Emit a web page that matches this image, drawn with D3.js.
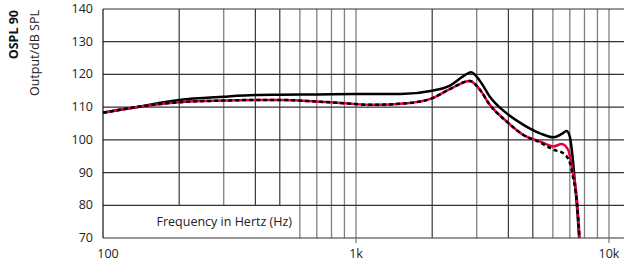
<!DOCTYPE html>
<html>
<head>
<meta charset="utf-8">
<script src="https://cdn.jsdelivr.net/npm/d3@7"></script>
<style>
  body { margin: 0; background: #fff; }
  svg { display: block; }
</style>
</head>
<body>
<div id="viz-container"></div>
<script>
// values (Hz, dB SPL)
let blackFreq = [100, 135, 200, 300, 400, 500, 700, 1000, 1500, 2000, 2350, 2650, 2850, 3090, 3380, 3940, 4590, 5340, 6030, 6500, 6800, 7000, 7150, 7350, 7500, 7620];
let blackDb   = [108.3, 110.0, 112.2, 113.2, 113.7, 113.8, 113.9, 114.0, 114.0, 115.0, 116.6, 119.4, 120.7, 118.0, 113.2, 108.1, 104.6, 102.0, 100.8, 101.8, 102.7, 101.0, 96, 86, 78, 70];

let redFreq = [100, 135, 200, 300, 400, 500, 700, 900, 1170, 1590, 2000, 2350, 2820, 3090, 3380, 3940, 4590, 5340, 6030, 6500, 6900, 7130, 7470, 7650];
let redDb   = [108.3, 110.0, 111.5, 112.0, 112.2, 112.2, 111.7, 111.2, 110.7, 111.2, 112.7, 115.5, 118.0, 115.3, 110.7, 105.6, 101.5, 99.5, 98.0, 98.7, 96.9, 91.8, 81.7, 70];

let dashFreq = [100, 135, 200, 300, 400, 500, 700, 900, 1170, 1590, 2000, 2350, 2820, 3090, 3380, 3940, 4590, 5340, 6030, 6600, 7010, 7200, 7470, 7650];
let dashDb   = [108.3, 110.0, 111.5, 112.0, 112.2, 112.2, 111.7, 111.2, 110.7, 111.2, 112.7, 115.5, 118.0, 115.3, 110.7, 105.6, 101.5, 99.2, 97.0, 95.9, 92.9, 88.8, 80.8, 70];

let yTicks = [70, 80, 90, 100, 110, 120, 130, 140];
let xLabels = [[100, "100"], [1000, "1k"], [10000, "10k"]];
let darkLines = [200, 400, 500, 2000, 4000, 5000];
let greyLines = [300, 600, 700, 800, 900, 1000, 3000, 6000, 7000, 8000, 9000, 10000];

let svgWidth = 624;
let svgHeight = 265;
let plotLeft = 103, plotTop = 9, plotBottom = 238, plotRight = 624;
let font = "'Liberation Sans Narrow', 'Arial Narrow', 'Open Sans', sans-serif";

let viz = d3.select("#viz-container")
  .append("svg")
    .attr("width", svgWidth)
    .attr("height", svgHeight);

// 253 px per decade, the plot runs off the right edge
let x = d3.scaleLog()
  .domain([100, 100 * Math.pow(10, (plotRight - plotLeft) / 253)])
  .range([plotLeft, plotRight]);
let y = d3.scaleLinear().domain([70, 140]).range([plotBottom, plotTop]);

// vertical grid
viz.selectAll(".greyLine").data(greyLines).enter()
  .append("line")
    .attr("class", "greyLine")
    .attr("x1", d => x(d)).attr("x2", d => x(d))
    .attr("y1", plotTop).attr("y2", plotBottom)
    .attr("stroke", "#808080")
    .attr("stroke-width", 1.3);

viz.selectAll(".darkLine").data(darkLines).enter()
  .append("line")
    .attr("class", "darkLine")
    .attr("x1", d => x(d)).attr("x2", d => x(d))
    .attr("y1", plotTop).attr("y2", plotBottom)
    .attr("stroke", "#111")
    .attr("stroke-width", 1);

// white box behind the x title
viz.append("rect")
  .attr("x", plotLeft)
  .attr("y", y(80))
  .attr("width", x(590) - plotLeft)
  .attr("height", plotBottom - y(80))
  .attr("fill", "white");

// horizontal grid
viz.selectAll(".hLine").data(yTicks).enter()
  .append("line")
    .attr("class", "hLine")
    .attr("x1", plotLeft).attr("x2", plotRight)
    .attr("y1", d => y(d)).attr("y2", d => y(d))
    .attr("stroke", "#333")
    .attr("stroke-width", 1.2);

viz.append("line")
  .attr("x1", plotLeft).attr("x2", plotLeft)
  .attr("y1", plotTop).attr("y2", plotBottom)
  .attr("stroke", "#111")
  .attr("stroke-width", 1.2);

// tick marks below the axis at 1k and 10k
viz.selectAll(".tickMark").data([1000, 10000]).enter()
  .append("line")
    .attr("x1", d => x(d)).attr("x2", d => x(d))
    .attr("y1", plotBottom).attr("y2", plotBottom + 5)
    .attr("stroke", "#808080")
    .attr("stroke-width", 1.3);

// y tick labels
viz.selectAll(".yLabel").data(yTicks).enter()
  .append("text")
    .text(d => d)
    .attr("x", 93)
    .attr("y", d => y(d) + 4)
    .attr("text-anchor", "end")
    .attr("font-family", font)
    .attr("font-size", 12.5)
    .attr("fill", "#222");

// x tick labels
viz.selectAll(".xLabel").data(xLabels).enter()
  .append("text")
    .text(d => d[1])
    .attr("x", d => d[0] == 100 ? x(d[0]) + 5 : x(d[0]))
    .attr("y", 258)
    .attr("text-anchor", "middle")
    .attr("font-family", font)
    .attr("font-size", 12.5)
    .attr("fill", "#222");

viz.append("text")
  .text("Frequency in Hertz (Hz)")
  .attr("x", 292)
  .attr("y", 226)
  .attr("text-anchor", "end")
  .attr("font-family", font)
  .attr("font-size", 12.5)
  .attr("fill", "#222");

// y titles
viz.append("text")
  .text("OSPL 90")
  .attr("transform", "translate(18,10) rotate(-90)")
  .attr("text-anchor", "end")
  .attr("font-family", font)
  .attr("font-weight", "bold")
  .attr("font-size", 12.5)
  .attr("fill", "#111");

viz.append("text")
  .text("Output/dB SPL")
  .attr("transform", "translate(39,10) rotate(-90)")
  .attr("text-anchor", "end")
  .attr("font-family", font)
  .attr("font-size", 12.5)
  .attr("fill", "#222");

// curves
let line = d3.line()
  .x(d => x(d[0]))
  .y(d => y(d[1]))
  .curve(d3.curveMonotoneX);

function pairs(f, v){
  return f.map((d, i) => [d, v[i]]);
}

viz.append("path")
  .datum(pairs(blackFreq, blackDb))
  .attr("d", line)
  .attr("fill", "none")
  .attr("stroke", "#000")
  .attr("stroke-width", 2.5);

viz.append("path")
  .datum(pairs(redFreq, redDb))
  .attr("d", line)
  .attr("fill", "none")
  .attr("stroke", "#e4003c")
  .attr("stroke-width", 2.5);

viz.append("path")
  .datum(pairs(dashFreq, dashDb))
  .attr("d", line)
  .attr("fill", "none")
  .attr("stroke", "#000")
  .attr("stroke-width", 2.5)
  .attr("stroke-dasharray", "4,3");
</script>
</body>
</html>
